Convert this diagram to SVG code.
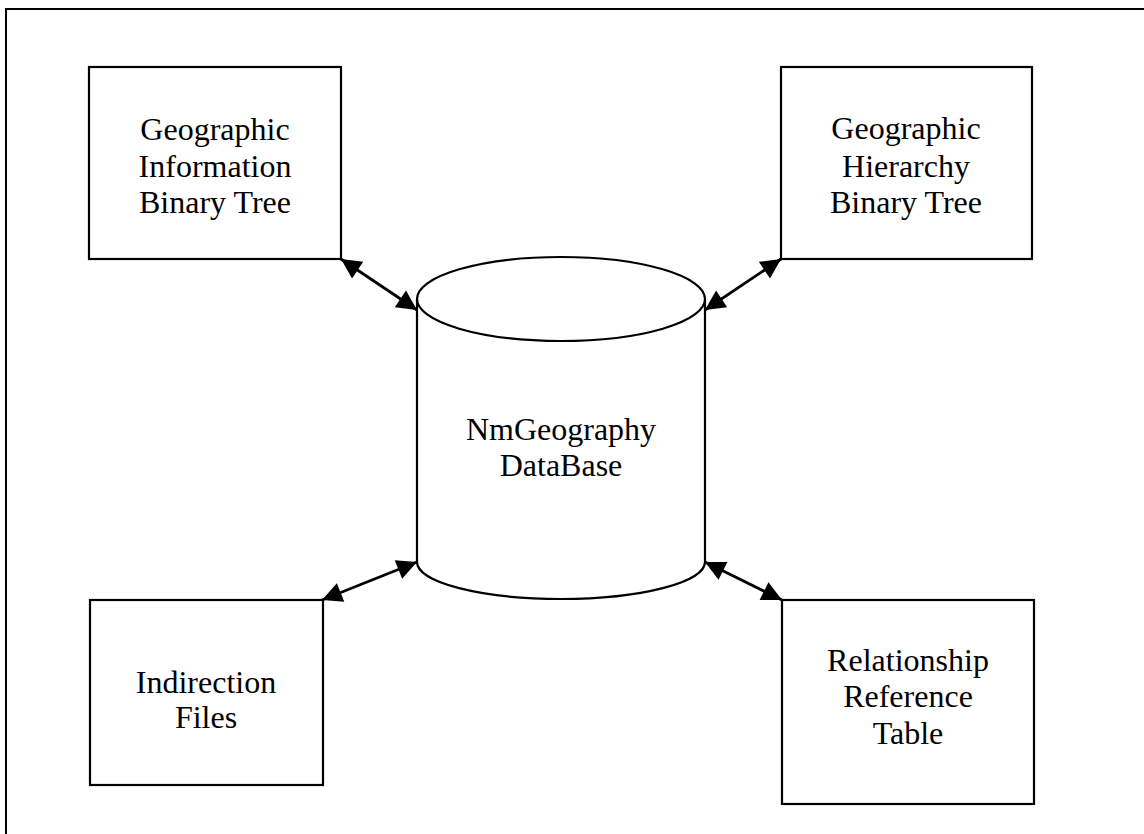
<svg xmlns="http://www.w3.org/2000/svg" width="1144" height="834" viewBox="0 0 1144 834">
<style>
.b{fill:#fff;stroke:#000;stroke-width:2.2}
.t{font-family:"Liberation Serif","Times New Roman",serif;font-size:32px;fill:#000;text-anchor:middle}
.c{fill:none;stroke:#000;stroke-width:2.8}
</style>
<defs>
<marker id="ah" viewBox="0 0 10 10" refX="10" refY="5" markerWidth="24" markerHeight="20" markerUnits="userSpaceOnUse" orient="auto-start-reverse">
<path d="M0,0 L10,5 L0,10 z" fill="#000"/>
</marker>
</defs>
<rect width="1144" height="834" fill="#fff"/>
<g id="frame" fill="none" stroke="#000" stroke-width="2">
<path d="M6,834 L6,9 L1144,9"/>
</g>
<g id="geo-info">
<rect class="b" x="89" y="67" width="252" height="192"/>
<text class="t" x="215" y="140">Geographic</text>
<text class="t" x="215" y="177">Information</text>
<text class="t" x="215" y="213">Binary Tree</text>
</g>
<g id="geo-hier">
<rect class="b" x="781" y="67" width="251" height="192"/>
<text class="t" x="906" y="139">Geographic</text>
<text class="t" x="906" y="177">Hierarchy</text>
<text class="t" x="906" y="213">Binary Tree</text>
</g>
<g id="indirection">
<rect class="b" x="90" y="600" width="233" height="185"/>
<text class="t" x="206" y="693">Indirection</text>
<text class="t" x="206" y="728">Files</text>
</g>
<g id="relref">
<rect class="b" x="782" y="600" width="252" height="204"/>
<text class="t" x="908" y="671">Relationship</text>
<text class="t" x="908" y="707">Reference</text>
<text class="t" x="908" y="744">Table</text>
</g>
<g id="database">
<path class="b" d="M417,300 L417,562 A144,37 0 0 0 705,562 L705,300"/>
<ellipse class="b" cx="561" cy="299" rx="144" ry="42"/>
<text class="t" x="561" y="440">NmGeography</text>
<text class="t" x="561" y="476">DataBase</text>
</g>
<g id="connectors">
<line class="c" x1="341" y1="259" x2="417" y2="310" marker-start="url(#ah)" marker-end="url(#ah)"/>
<line class="c" x1="781" y1="259" x2="705" y2="310" marker-start="url(#ah)" marker-end="url(#ah)"/>
<line class="c" x1="322" y1="600" x2="417" y2="562" marker-start="url(#ah)" marker-end="url(#ah)"/>
<line class="c" x1="782" y1="600" x2="705" y2="562" marker-start="url(#ah)" marker-end="url(#ah)"/>
</g>
</svg>
